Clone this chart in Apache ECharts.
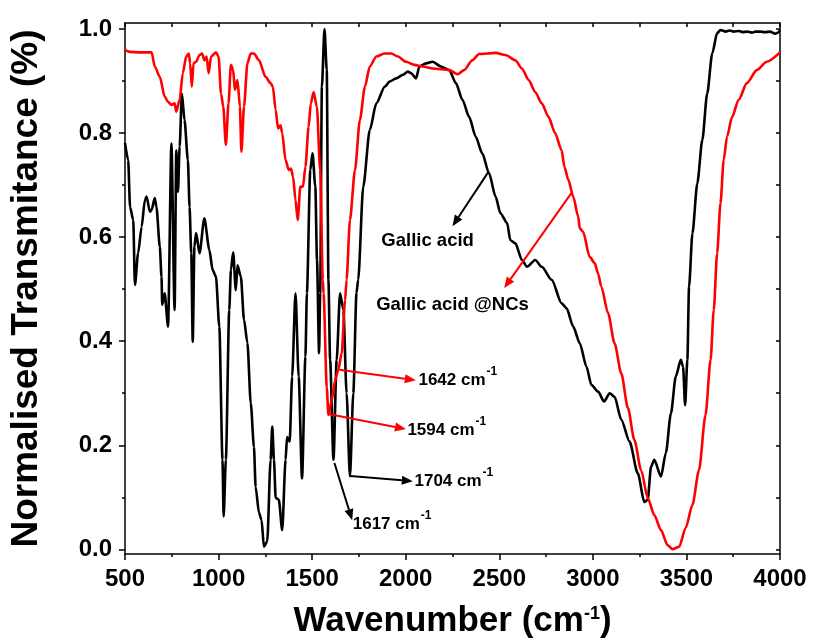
<!DOCTYPE html>
<html>
<head>
<meta charset="utf-8">
<script src="https://cdn.jsdelivr.net/npm/echarts@6/dist/echarts.min.js"></script>
<style>
html,body{margin:0;padding:0;background:#fff;}
#chart{width:816px;height:644px;}
</style>
</head>
<body>
<div id="chart"></div>
<script>
// ---- Data (wavenumber cm-1, normalised transmittance) ----
const gallicAcid = [
[500,0.781],[517,0.748],[527,0.658],[544,0.633],[553,0.508],[570,0.569],[589,0.620],[606,0.671],[615,0.678],[633,0.649],[642,0.652],[659,0.675],[668,0.658],[686,0.582],[695,0.524],[699,0.470],[712,0.492],[730,0.428],[748,0.780],[765,0.460],[774,0.767],[783,0.687],[792,0.774],[804,0.876],[818,0.825],[836,0.748],[845,0.658],[854,0.569],[862,0.399],[871,0.582],[880,0.608],[898,0.569],[924,0.636],[951,0.575],[968,0.537],[986,0.524],[1004,0.428],[1021,0.172],[1027,0.063],[1039,0.172],[1057,0.460],[1066,0.537],[1078,0.571],[1092,0.498],[1101,0.546],[1119,0.524],[1136,0.441],[1154,0.397],[1172,0.281],[1189,0.197],[1198,0.120],[1216,0.070],[1230,0.056],[1242,0.005],[1260,0.015],[1278,0.172],[1287,0.236],[1296,0.172],[1305,0.099],[1322,0.095],[1340,0.037],[1358,0.172],[1366,0.216],[1380,0.207],[1393,0.332],[1411,0.492],[1428,0.332],[1446,0.136],[1464,0.370],[1472,0.492],[1490,0.729],[1502,0.761],[1517,0.697],[1526,0.556],[1537,0.377],[1543,0.492],[1552,0.889],[1566,1.000],[1578,0.921],[1587,0.518],[1596,0.364],[1614,0.172],[1631,0.364],[1649,0.492],[1667,0.460],[1684,0.300],[1702,0.140],[1720,0.300],[1737,0.493],[1746,0.518],[1773,0.697],[1808,0.806],[1843,0.857],[1888,0.889],[1914,0.899],[1949,0.905],[1985,0.912],[2011,0.918],[2029,0.915],[2055,0.905],[2073,0.928],[2109,0.934],[2144,0.937],[2188,0.928],[2233,0.921],[2268,0.896],[2303,0.864],[2339,0.831],[2374,0.793],[2409,0.761],[2445,0.723],[2480,0.678],[2506,0.646],[2542,0.627],[2559,0.594],[2586,0.588],[2621,0.556],[2648,0.543],[2692,0.556],[2727,0.543],[2780,0.518],[2833,0.473],[2860,0.463],[2895,0.428],[2930,0.396],[2966,0.351],[2992,0.316],[3028,0.303],[3060,0.284],[3090,0.300],[3116,0.293],[3152,0.249],[3196,0.207],[3240,0.146],[3275,0.091],[3293,0.095],[3311,0.159],[3328,0.172],[3364,0.140],[3390,0.185],[3417,0.261],[3443,0.332],[3470,0.364],[3482,0.351],[3493,0.277],[3505,0.364],[3514,0.505],[3532,0.607],[3558,0.703],[3585,0.787],[3611,0.876],[3638,0.953],[3664,0.992],[3682,0.998],[3710,0.995],[3730,0.997],[3752,0.995],[3780,0.996],[3800,0.994],[3823,0.995],[3850,0.993],[3870,0.995],[3894,0.995],[3920,0.994],[3947,0.995],[3974,0.991],[3990,0.993],[4000,0.998]
];
const gallicAcidNCs = [
[500,0.960],[527,0.956],[580,0.955],[642,0.955],[659,0.928],[686,0.908],[712,0.870],[730,0.860],[748,0.854],[765,0.857],[774,0.841],[792,0.864],[809,0.915],[827,0.947],[841,0.953],[848,0.934],[857,0.889],[866,0.934],[880,0.937],[898,0.950],[912,0.953],[924,0.940],[936,0.947],[947,0.915],[960,0.947],[986,0.955],[1000,0.947],[1013,0.876],[1025,0.851],[1039,0.777],[1053,0.857],[1066,0.931],[1078,0.921],[1087,0.883],[1101,0.902],[1114,0.851],[1122,0.764],[1136,0.851],[1154,0.934],[1172,0.953],[1189,0.953],[1216,0.940],[1251,0.908],[1278,0.896],[1290,0.889],[1305,0.844],[1318,0.809],[1331,0.815],[1340,0.800],[1358,0.748],[1375,0.729],[1387,0.732],[1398,0.716],[1411,0.671],[1423,0.633],[1437,0.697],[1451,0.697],[1464,0.735],[1481,0.812],[1493,0.857],[1508,0.879],[1525,0.851],[1543,0.729],[1557,0.518],[1561,0.492],[1578,0.312],[1587,0.258],[1605,0.287],[1623,0.325],[1640,0.345],[1658,0.377],[1676,0.479],[1684,0.518],[1702,0.633],[1729,0.729],[1755,0.825],[1782,0.889],[1808,0.928],[1843,0.947],[1888,0.953],[1923,0.953],[1958,0.947],[2002,0.937],[2047,0.931],[2091,0.928],[2144,0.924],[2233,0.921],[2277,0.913],[2312,0.921],[2356,0.940],[2392,0.952],[2480,0.954],[2533,0.950],[2586,0.940],[2621,0.924],[2657,0.902],[2692,0.879],[2727,0.857],[2763,0.831],[2798,0.800],[2833,0.767],[2848,0.735],[2869,0.710],[2895,0.678],[2922,0.639],[2930,0.617],[2948,0.610],[2983,0.562],[3010,0.550],[3028,0.530],[3045,0.505],[3081,0.454],[3116,0.396],[3152,0.338],[3187,0.272],[3222,0.210],[3258,0.152],[3293,0.099],[3328,0.066],[3364,0.037],[3399,0.008],[3426,0.000],[3461,0.005],[3496,0.041],[3532,0.085],[3567,0.152],[3602,0.258],[3629,0.364],[3646,0.460],[3664,0.569],[3682,0.665],[3699,0.748],[3717,0.793],[3744,0.831],[3779,0.864],[3823,0.896],[3876,0.921],[3929,0.937],[4000,0.955]
];
const yTickValues = [0, 0.2, 0.4, 0.6, 0.8, 1.0];
const yMinorValues = [0.1, 0.3, 0.5, 0.7, 0.9];
const yRightTicks = [0, 0.1, 0.2, 0.3, 0.4, 0.5, 0.6, 0.7, 0.8, 0.9, 1.0];
const xAxisTitle = 'Wavenumber (cm';
const yAxisTitle = 'Normalised Transmitance (%)';

// annotations: arrow start/end (data coords), label anchor (data coords)
const peakLabels = [
  {text:'1642 cm', color:'#ff0000', from:[1645,0.345], to:[2054,0.325], at:[2068,0.322]},
  {text:'1594 cm', color:'#ff0000', from:[1587,0.260], to:[2001,0.231], at:[2009,0.226]},
  {text:'1704 cm', color:'#000000', from:[1704,0.141], to:[2038,0.131], at:[2047,0.128]},
  {text:'1617 cm', color:'#000000', from:[1619,0.166], to:[1714,0.056], at:[1717,0.045]}
];
const seriesLabels = [
  {text:'Gallic acid', color:'#000000', from:[2441,0.725], to:[2250,0.621], at:[2117,0.593]},
  {text:'Gallic acid @NCs', color:'#ff0000', from:[2886,0.685], to:[2526,0.502], at:[2250,0.470]}
];

const FONT = "'Liberation Sans', Arial, Helvetica, sans-serif";
const NARROW = "'Liberation Sans Narrow', 'Arial Narrow', 'Liberation Sans', Arial, sans-serif";
const Y_MIN = -0.009, Y_MAX = 1.0115;

const chart = echarts.init(document.getElementById('chart'), null, {renderer:'canvas'});
const axisLineStyle = {color:'#000', width:1.5};

chart.setOption({
  animation:false,
  backgroundColor:'#fff',
  grid:{left:120, right:36, top:23, bottom:90, containLabel:false},
  xAxis:[
    {type:'value', min:500, max:4000, interval:500, position:'bottom',
     axisLine:{show:true, onZero:false, lineStyle:axisLineStyle},
     axisTick:{show:true, inside:false, length:6, lineStyle:axisLineStyle},
     minorTick:{show:true, splitNumber:2, length:3, lineStyle:axisLineStyle},
     splitLine:{show:false}, minorSplitLine:{show:false},
     axisLabel:{margin:13, color:'#000', fontFamily:NARROW, fontWeight:'bold', fontSize:24,
       formatter:function(v){return String(v);}},
     name:'{a|' + xAxisTitle + '}{b|-1}{a|)}', nameLocation:'middle', nameGap:47,
     nameTextStyle:{rich:{
       a:{fontFamily:FONT, fontWeight:'bold', fontSize:35, color:'#000', lineHeight:38, verticalAlign:'bottom'},
       b:{fontFamily:FONT, fontWeight:'bold', fontSize:18, color:'#000', lineHeight:20, padding:[0,0,16,0], verticalAlign:'bottom'}
     }}
    },
    {type:'value', min:500, max:4000, interval:250, position:'top',
     axisLine:{show:true, onZero:false, lineStyle:axisLineStyle},
     axisTick:{show:true, inside:true, length:4, lineStyle:axisLineStyle},
     axisLabel:{show:false}, splitLine:{show:false}}
  ],
  yAxis:[
    {type:'value', min:Y_MIN, max:Y_MAX, position:'left',
     axisLine:{show:true, onZero:false, lineStyle:axisLineStyle},
     axisTick:{show:true, inside:false, length:6, lineStyle:axisLineStyle, customValues:yTickValues},
     axisLabel:{show:true, margin:13, color:'#000', fontFamily:NARROW, fontWeight:'bold', fontSize:24,
       customValues:yTickValues, formatter:function(v){return v.toFixed(1);}},
     splitLine:{show:false},
     name:yAxisTitle, nameLocation:'middle', nameGap:80,
     nameTextStyle:{fontFamily:FONT, fontWeight:'bold', fontSize:37, color:'#000'}
    },
    {type:'value', min:Y_MIN, max:Y_MAX, position:'left',
     axisLine:{show:false},
     axisTick:{show:true, inside:false, length:3, lineStyle:axisLineStyle, customValues:yMinorValues},
     axisLabel:{show:false}, splitLine:{show:false}},
    {type:'value', min:Y_MIN, max:Y_MAX, position:'right',
     axisLine:{show:true, onZero:false, lineStyle:axisLineStyle},
     axisTick:{show:true, inside:true, length:4, lineStyle:axisLineStyle, customValues:yRightTicks},
     axisLabel:{show:false}, splitLine:{show:false}}
  ],
  series:[
    {name:'Gallic acid', type:'line', xAxisIndex:0, yAxisIndex:0, data:gallicAcid,
     showSymbol:false, smooth:0.25, smoothMonotone:'x',
     lineStyle:{color:'#000000', width:2.6}, z:3},
    {name:'Gallic acid @NCs', type:'line', xAxisIndex:0, yAxisIndex:0, data:gallicAcidNCs,
     showSymbol:false, smooth:0.25, smoothMonotone:'x',
     lineStyle:{color:'#ff0000', width:2.6}, z:4}
  ]
});

function toPx(v){ return chart.convertToPixel({xAxisIndex:0, yAxisIndex:0}, v); }
function arrowEls(from, to, color){
  const p1 = toPx(from), p2 = toPx(to);
  const dx = p2[0]-p1[0], dy = p2[1]-p1[1];
  const len = Math.sqrt(dx*dx+dy*dy);
  const ux = dx/len, uy = dy/len, nx = -uy, ny = ux;
  const hl = 11, hw = 4.5;
  const bx = p2[0]-ux*hl, by = p2[1]-uy*hl;
  return [
    {type:'line', z:10, shape:{x1:p1[0], y1:p1[1], x2:bx, y2:by}, style:{stroke:color, lineWidth:2}},
    {type:'polygon', z:10, shape:{points:[[p2[0],p2[1]],[bx+nx*hw,by+ny*hw],[bx-nx*hw,by-ny*hw]]}, style:{fill:color}}
  ];
}
const els = [];
peakLabels.forEach(function(a){
  arrowEls(a.from, a.to, a.color).forEach(function(e){els.push(e);});
  const p = toPx(a.at);
  els.push({type:'text', z:11, x:p[0], y:p[1]-3, style:{
    text:'{a|' + a.text + '}{b|-1}', align:'left', verticalAlign:'middle',
    rich:{
      a:{fontFamily:FONT, fontWeight:'bold', fontSize:17, fill:'#000', lineHeight:20, verticalAlign:'bottom'},
      b:{fontFamily:FONT, fontWeight:'bold', fontSize:12, fill:'#000', lineHeight:14, padding:[0,0,11,1], verticalAlign:'bottom'}
    }}});
});
seriesLabels.forEach(function(a){
  arrowEls(a.from, a.to, a.color).forEach(function(e){els.push(e);});
  const p = toPx(a.at);
  els.push({type:'text', z:11, x:p[0], y:p[1], style:{
    text:a.text, align:'center', verticalAlign:'middle',
    fontFamily:FONT, fontWeight:'bold', fontSize:18.5, fill:'#000'}});
});
chart.setOption({graphic:{elements:els}});
</script>
</body>
</html>
